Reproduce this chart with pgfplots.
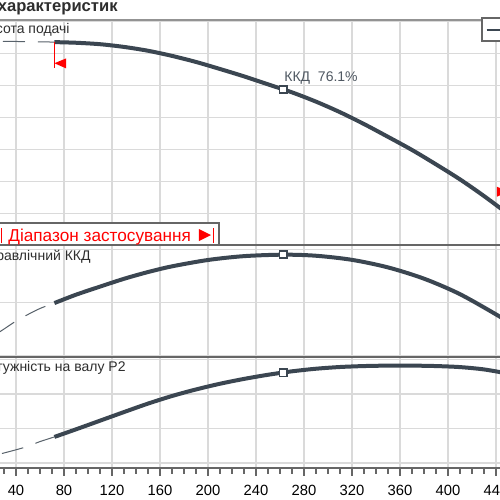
\documentclass[border=0pt]{standalone}
\usepackage{pgfplots}
\pgfplotsset{compat=1.18}
\usepackage{fontspec}
\setmainfont{Liberation Sans}
\definecolor{curve}{HTML}{3B4651}
\definecolor{gridc}{HTML}{DADADA}
\definecolor{frame}{HTML}{666666}
\definecolor{txt}{HTML}{2E2E2E}
\definecolor{rng}{HTML}{FF0000}

\begin{document}
\begin{tikzpicture}
\useasboundingbox (0,0) rectangle (250pt,250pt);
\clip (0,0) rectangle (250pt,250pt);
\fill[white] (0,0) rectangle (250pt,250pt);
\pgfplotsset{common/.style={
  scale only axis, width=288pt, xmin=0, xmax=480,
  xtick={0,40,...,480}, grid=major,
  major grid style={gridc, line width=0.65pt},
  axis line style={frame, line width=0.65pt},
  yticklabels={}, ytick style={draw=none},
  /pgf/number format/assume math mode=true,
  anchor=south west}}

% ---------- head ----------
\begin{axis}[common, at={(-16pt,127.35pt)}, height=112.8pt,
  ymin=0, ymax=70.5, ytick={0,10,...,70},
  xticklabels={}, xtick style={draw=none}]
\addplot[curve!85, line width=0.5pt, dash pattern=on 11pt off 6.5pt, smooth]
  coordinates {(0,63.8) (20,63.8) (40,63.7) (60,63.6) (72,63.5)};
\addplot[curve, line width=2pt, smooth] coordinates {
  (72,63.5) (90,63.3) (110,62.85) (130,62.0) (150,60.8) (170,59.2) (190,57.3)
  (210,55.1) (230,52.8) (250,50.3) (270,47.8) (290,44.9) (310,41.6) (330,37.9)
  (350,33.9) (370,29.8) (390,25.3) (410,20.6) (430,15.4) (450,9.8)};
\addplot[curve, line width=0.8pt, only marks, mark=square*, mark size=1.8pt,
  mark options={fill=white}] coordinates {(262.75,48.75)};
\draw[rng, line width=0.5pt] (axis cs:72,63.5) -- (axis cs:72,55.3);
\fill[rng] (axis cs:72,56.9) -- (axis cs:81.7,58.4) -- (axis cs:81.7,55.3) -- cycle;
\draw[rng, line width=0.5pt] (axis cs:451.7,12) -- (axis cs:451.7,15.2);
\fill[rng] (axis cs:450.5,16.75) -- (axis cs:440.8,18.3) -- (axis cs:440.8,15.2) -- cycle;
\end{axis}

% ---------- efficiency ----------
\begin{axis}[common, at={(-16pt,71.5pt)}, height=56pt,
  ymin=-1.1, ymax=83.4, ytick={0,40,80},
  xticklabels={}, xtick style={draw=none}]
\addplot[curve!85, line width=0.5pt, dash pattern=on 11pt off 6.5pt, smooth]
  coordinates {(0,0) (10,7) (20,14) (30,20) (40,26) (50,31) (60,35.5) (72,39.6)};
\addplot[curve, line width=2pt, smooth] coordinates {
  (72,39.6) (90,45.9) (110,52.0) (130,57.9) (150,63.0) (170,67.3) (200,72.1)
  (230,75.0) (262.75,76.1) (290,75.3) (320,72.2) (350,66.5) (380,58.0)
  (410,46.3) (443.3,29.3) (455,22.2)};
\addplot[curve, line width=0.8pt, only marks, mark=square*, mark size=1.8pt,
  mark options={fill=white}] coordinates {(262.75,76.1)};
\end{axis}

% ---------- power ----------
\begin{axis}[common, at={(-16pt,16pt)}, height=55.5pt,
  ymin=-2.9, ymax=61.4, ytick={0,20,40,60},
  minor xtick={0,10,...,480}, tick align=outside, xtick pos=bottom,
  major tick length=4pt, minor tick length=3pt,
  xtick style={frame, line width=0.6pt},
  minor tick style={frame, line width=0.6pt},
  xticklabel style={font=\fontsize{7.4}{8}\selectfont, text=black, inner sep=1pt, yshift=-3.2pt}]
\addplot[curve!85, line width=0.5pt, dash pattern=on 11pt off 6.5pt, smooth]
  coordinates {(0,0.6) (30,5.8) (48.3,9.3) (59.2,12.2) (72,15.1)};
\addplot[curve, line width=2pt, smooth] coordinates {
  (72,15.1) (90,19.5) (110,24.5) (130,29.5) (150,34.4) (170,38.8) (190,42.6)
  (210,45.9) (230,48.7) (250,51.1) (270,53.1) (290,54.6) (310,55.6) (330,56.15)
  (350,56.4) (370,56.4) (390,56.15) (410,55.55) (430,54.2) (450,51.8)};
\addplot[curve, line width=0.8pt, only marks, mark=square*, mark size=1.8pt,
  mark options={fill=white}] coordinates {(262.75,52.3)};
\end{axis}

% ---------- frame details and texts ----------
\draw[gray!85, line width=1pt] (0,240.2pt) -- (250pt,240.2pt);
\node[anchor=base east, inner sep=0pt, font=\bfseries\fontsize{8.3}{9}\selectfont, text=txt]
  at (59pt,244.5pt) {Криві характеристик};
\node[anchor=base east, inner sep=0pt, font=\fontsize{7}{8}\selectfont, text=txt]
  at (35pt,233.5pt) {Висота подачі};
\node[anchor=base east, inner sep=0pt, font=\fontsize{7}{8}\selectfont, text=txt]
  at (45.5pt,120pt) {Гідравлічний ККД};
\node[anchor=base east, inner sep=0pt, font=\fontsize{7}{8}\selectfont, text=txt]
  at (63pt,64pt) {Потужність на валу P2};
\node[anchor=base west, inner sep=0pt, font=\fontsize{7}{8}\selectfont, text=curve!90]
  at (142pt,209.15pt) {ККД\ \ 76.1\%};
% legend box
\draw[frame, fill=white, line width=0.6pt] (241pt,229.5pt) rectangle (270pt,241pt);
\draw[curve, line width=0.7pt] (243.3pt,235pt) -- (262pt,235pt);
% range box
\draw[frame, fill=white, line width=0.6pt] (-20pt,127.5pt) rectangle (109.5pt,138.5pt);
\draw[rng, line width=0.75pt] (0.8pt,128.5pt) -- (0.8pt,136pt);
\node[anchor=base west, inner sep=0pt, font=\fontsize{8.6}{10}\selectfont, text=rng]
  at (4pt,129.2pt) {Діапазон застосування};
\fill[rng] (99.5pt,135.5pt) -- (105.5pt,132.5pt) -- (99.5pt,129.5pt) -- cycle;
\draw[rng, line width=0.75pt] (106.8pt,128.5pt) -- (106.8pt,136pt);
\end{tikzpicture}
\end{document}
